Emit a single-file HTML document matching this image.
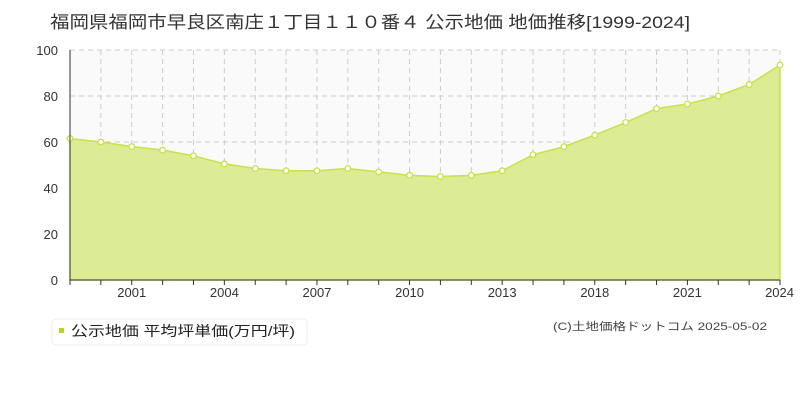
<!DOCTYPE html>
<html><head><meta charset="utf-8"><style>
body{margin:0;background:#fff;width:800px;height:400px;overflow:hidden}
svg{display:block}
text{font-family:"Liberation Sans","Noto Sans CJK JP",sans-serif}
</style></head><body>
<svg width="800" height="400" viewBox="0 0 800 400" xmlns="http://www.w3.org/2000/svg">
<text x="50" y="28" font-size="17" fill="#333" textLength="640" lengthAdjust="spacingAndGlyphs">福岡県福岡市早良区南庄１丁目１１０番４ 公示地価 地価推移[1999-2024]</text>
<rect x="70" y="50" width="710" height="230" fill="#fafafa"/>
<g id="grid" stroke="#ccc" stroke-dasharray="5,4" stroke-width="1"></g>
<path id="area" fill="#dbec95" stroke="#c7e24a" stroke-width="1.5"/>
<g id="pts" fill="#fff" stroke="#c7e24a" stroke-width="1.3"></g>
<line x1="70" y1="50" x2="70" y2="280" stroke="#333"/>
<line x1="70" y1="280" x2="780" y2="280" stroke="#333"/>
<g id="ticks" stroke="#333"></g>
<g font-size="13" fill="#333" text-anchor="end">
<text x="58" y="55">100</text><text x="58" y="101">80</text><text x="58" y="147">60</text><text x="58" y="193">40</text><text x="58" y="239">20</text><text x="58" y="285">0</text>
</g>
<g id="xl" font-size="13" fill="#333" text-anchor="middle"></g>
<rect x="52" y="319" width="255" height="26" rx="4" fill="#fff" stroke="#eee"/>
<rect x="59" y="328" width="5" height="5" fill="#b5d626"/>
<text x="71" y="336" font-size="14" fill="#222" textLength="224" lengthAdjust="spacingAndGlyphs">公示地価 平均坪単価(万円/坪)</text>
<text x="553" y="330" font-size="11" fill="#444" textLength="214" lengthAdjust="spacingAndGlyphs">(C)土地価格ドットコム 2025-05-02</text>
</svg>
<script>
var v=[61.5,60,58,56.5,54,50.5,48.5,47.5,47.5,48.5,47,45.5,45,45.5,47.5,54.5,58,63,68.5,74.5,76.5,80,85,93.5];
var dx=710/23,ns="http://www.w3.org/2000/svg";
function X(i){return 70+i*dx}function Y(a){return 280-a*2.3}
var g=document.getElementById('grid'),t=document.getElementById('ticks'),p=document.getElementById('pts'),xl=document.getElementById('xl');
function el(par,tag,at){var e=document.createElementNS(ns,tag);for(var k in at)e.setAttribute(k,at[k]);par.appendChild(e);return e}
[20,40,60,80,100].forEach(function(a){el(g,'line',{x1:70,x2:780,y1:Y(a),y2:Y(a)})});
for(var i=1;i<24;i++){el(g,'line',{x1:X(i),x2:X(i),y1:50,y2:280});}
for(var i=0;i<24;i++){el(t,'line',{x1:X(i),x2:X(i),y1:280,y2:285})}
var d='M70,280';v.forEach(function(a,i){d+=' L'+X(i)+','+Y(a)});d+=' L780,280 Z';
document.getElementById('area').setAttribute('d',d);
v.forEach(function(a,i){el(p,'circle',{cx:X(i),cy:Y(a),r:2.8})});
var labs=['2001','2004','2007','2010','2013','2018','2021','2024'];
labs.forEach(function(s,k){var e=el(xl,'text',{x:X(2+3*k),y:297});e.textContent=s;if(k==7){e.setAttribute('text-anchor','end');e.setAttribute('x',794)}});
</script>
</body></html>
